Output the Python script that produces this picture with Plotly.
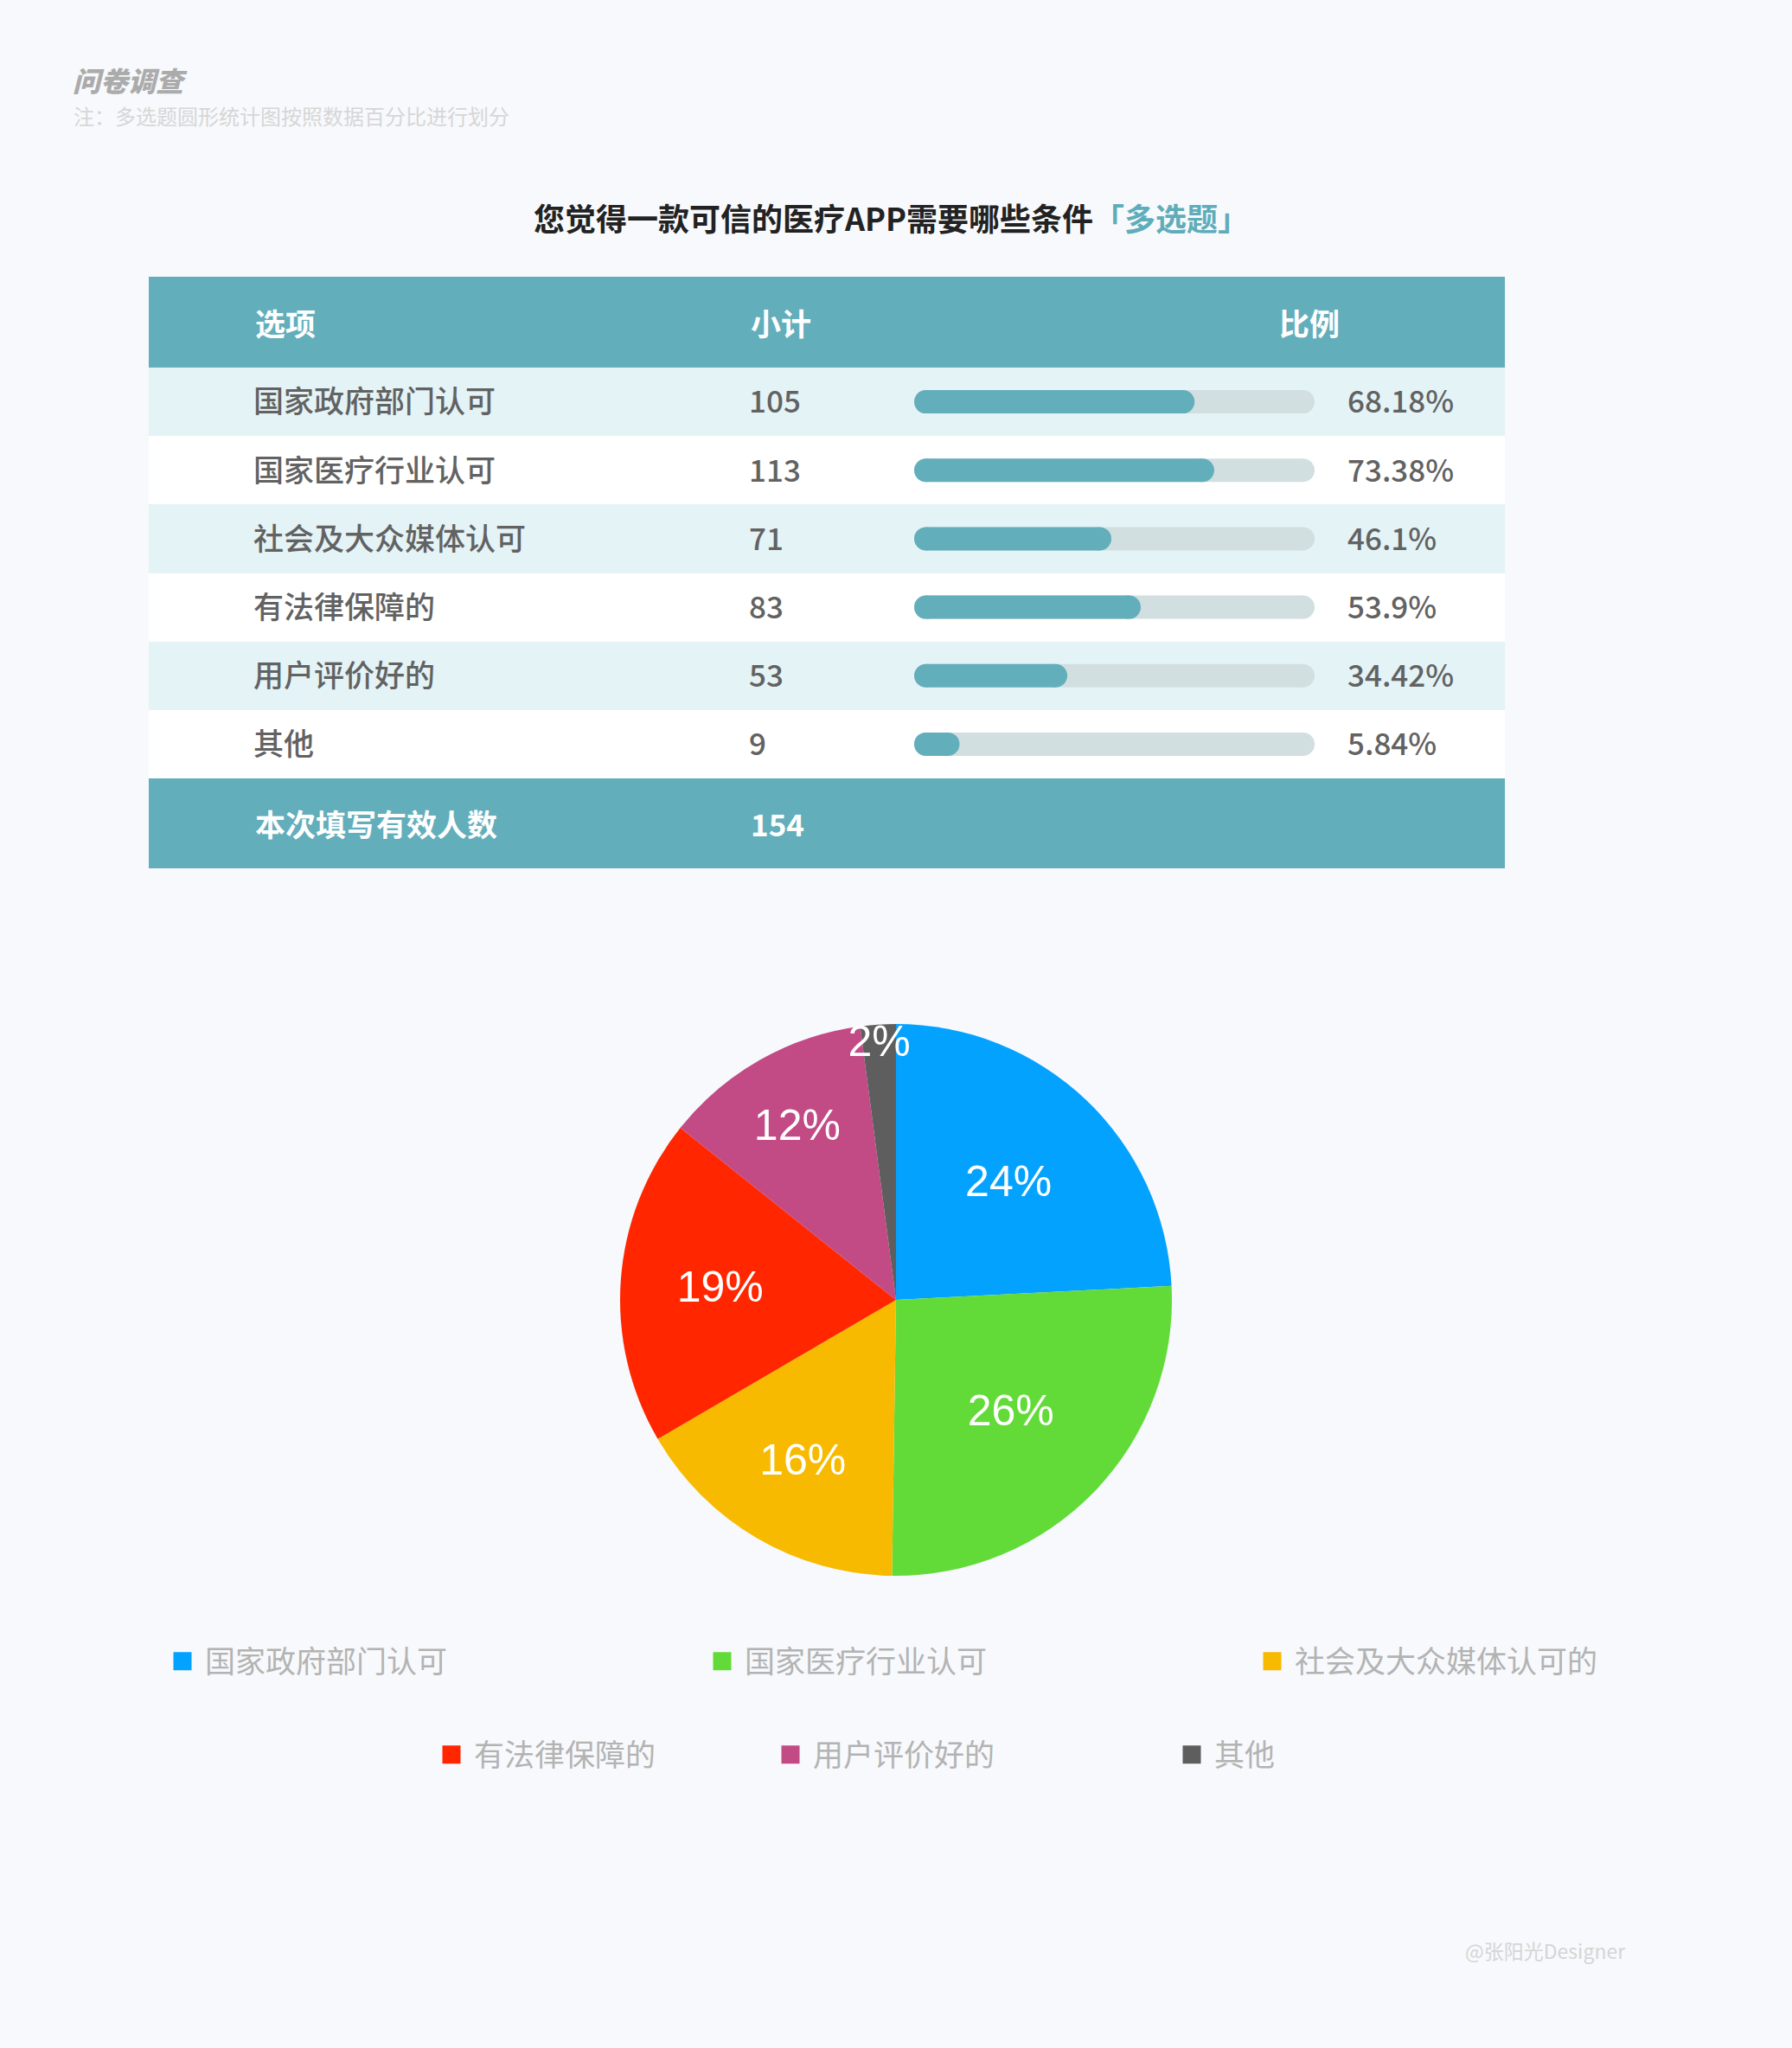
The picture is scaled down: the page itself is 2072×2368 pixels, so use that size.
import plotly.graph_objects as go

# ---------------- data ----------------
options = ["国家政府部门认可", "国家医疗行业认可", "社会及大众媒体认可", "有法律保障的", "用户评价好的", "其他"]
counts = [105, 113, 71, 83, 53, 9]
percents = [68.18, 73.38, 46.1, 53.9, 34.42, 5.84]
total_label = "本次填写有效人数"
total_count = 154
header_labels = ["选项", "小计", "比例"]
pie_labels = ["国家政府部门认可", "国家医疗行业认可", "社会及大众媒体认可的", "有法律保障的", "用户评价好的", "其他"]
pie_colors = ["#04A2FF", "#62DB38", "#F8BA00", "#FF2600", "#C24A85", "#5E5E5E"]

title_main = "您觉得一款可信的医疗APP需要哪些条件"
title_tag = "「多选题」"
corner_title = "问卷调查"
corner_note = "注：多选题圆形统计图按照数据百分比进行划分"
watermark = "@张阳光Designer"

# ---------------- layout helpers ----------------
W, H = 2072, 2368
BG = "#F7F9FC"
def fx(x):
    return x / W
def fy(y):
    return 1 - y / H

CJK = "Noto Sans CJK SC"
TEAL = "#63AEBB"
LIGHT_ROW = "#E4F3F6"
BAR_BG = "#D1DFE0"
TEXT_GRAY = "#626262"

tbl_left, tbl_right = 172, 1740
hdr_top, body_top, body_bot, ftr_bot = 320, 425, 900, 1004
col_label, col_count, col_pct = 293, 866, 1558
bar_left, bar_right, bar_h = 1057, 1520, 27
text_nudge = 4  # px, optical centring of CJK text in rows

fig = go.Figure()

n = len(options)
# row background stripes
fig.add_trace(go.Bar(
    x=[1] * n, y=options, orientation="h", width=1, base=0,
    marker=dict(color=[LIGHT_ROW if i % 2 == 0 else "#FFFFFF" for i in range(n)], line=dict(width=0)),
    xaxis="x", yaxis="y", showlegend=False, hoverinfo="skip",
))

# progress bars (background track then value) as thick lines with round caps
def segs(ends):
    xs, ys = [], []
    for o, e in zip(options, ends):
        xs += [0, e, None]
        ys += [o, o, None]
    return xs, ys

bx, by = segs([100] * n)
fig.add_trace(go.Scatter(
    x=bx, y=by, mode="lines+markers", xaxis="x2", yaxis="y",
    line=dict(color=BAR_BG, width=bar_h), marker=dict(color=BAR_BG, size=bar_h, line=dict(width=0)),
    cliponaxis=False, showlegend=False, hoverinfo="skip",
))
vx, vy = segs(percents)
fig.add_trace(go.Scatter(
    x=vx, y=vy, mode="lines+markers", xaxis="x2", yaxis="y",
    line=dict(color=TEAL, width=bar_h), marker=dict(color=TEAL, size=bar_h, line=dict(width=0)),
    cliponaxis=False, showlegend=False, hoverinfo="skip",
))

tw = tbl_right - tbl_left
def col(xpx):
    return (xpx - tbl_left) / tw

text_font = dict(family=CJK, size=35, color=TEXT_GRAY, weight=500)
for xs, txt in [(col_label, options),
                (col_count, [str(c) for c in counts]),
                (col_pct, [f"{p:g}%" for p in percents])]:
    fig.add_trace(go.Scatter(
        x=[col(xs)] * n, y=options, mode="text", text=txt, textposition="middle right",
        textfont=text_font, xaxis="x", yaxis="y2", showlegend=False, hoverinfo="skip", cliponaxis=False,
    ))

# pie
cx, cy, r = 1036, 1503, 319
fig.add_trace(go.Pie(
    labels=pie_labels, values=counts, sort=False, direction="clockwise", rotation=0,
    marker=dict(colors=pie_colors, line=dict(width=0)),
    texttemplate="%{percent:.0%}", textposition="inside", insidetextorientation="horizontal",
    textfont=dict(family="Liberation Sans", size=50, color="#FFFFFF"),
    domain=dict(x=[fx(cx - r), fx(cx + r)], y=[fy(cy + r), fy(cy - r)]),
    showlegend=False, hoverinfo="skip",
))

# legend entries: one legend per entry so each sits where the reference has it
legend_pos = [(211, 1921), (835, 1921), (1471, 1921), (522, 2029), (914, 2029), (1378, 2029)]
legend_font = dict(family=CJK, size=35, color="#B3B3B3")
legend_layout = {}
for i, (lab, colr) in enumerate(zip(pie_labels, pie_colors)):
    key = "legend" if i == 0 else f"legend{i + 1}"
    fig.add_trace(go.Scatter(
        x=[None], y=[None], mode="markers", name=lab, xaxis="x", yaxis="y",
        marker=dict(symbol="square", size=16, color=colr, line=dict(color=colr, width=5)),
        legend=key, showlegend=True, hoverinfo="skip",
    ))
    mx, my = legend_pos[i]
    legend_layout[key] = dict(orientation="h", x=fx(mx - 26), y=fy(my), xanchor="left", yanchor="middle",
                              itemwidth=42, font=legend_font, bgcolor="rgba(0,0,0,0)")

shapes = [
    dict(type="rect", xref="paper", yref="paper", x0=fx(tbl_left), x1=fx(tbl_right),
         y0=fy(body_top), y1=fy(hdr_top), fillcolor=TEAL, line=dict(width=0), layer="below"),
    dict(type="rect", xref="paper", yref="paper", x0=fx(tbl_left), x1=fx(tbl_right),
         y0=fy(ftr_bot), y1=fy(body_bot), fillcolor=TEAL, line=dict(width=0), layer="below"),
]

hdr_y = (hdr_top + body_top) / 2
ftr_y = (body_bot + ftr_bot) / 2
white_bold = dict(family=CJK, size=35, color="#FFFFFF", weight="bold")
annotations = []
for lab, xp in zip(header_labels, [col_label, col_count, 1477]):
    annotations.append(dict(text=lab, x=fx(xp), y=fy(hdr_y), xref="paper", yref="paper",
                            xanchor="left", yanchor="middle", showarrow=False, font=white_bold))
annotations.append(dict(text=total_label, x=fx(col_label), y=fy(ftr_y), xref="paper", yref="paper",
                        xanchor="left", yanchor="middle", showarrow=False, font=white_bold))
annotations.append(dict(text=str(total_count), x=fx(col_count), y=fy(ftr_y), xref="paper", yref="paper",
                        xanchor="left", yanchor="middle", showarrow=False, font=white_bold))
annotations.append(dict(text=f'{title_main}<span style="color:#5FADBA">{title_tag}</span>',
                        x=fx(1030), y=fy(251), xref="paper", yref="paper", xanchor="center", yanchor="middle",
                        showarrow=False, font=dict(family=CJK, size=36, color="#222222", weight="bold")))
annotations.append(dict(text=f"<i>{corner_title}</i>", x=fx(82), y=fy(92), xref="paper", yref="paper",
                        xanchor="left", yanchor="middle", showarrow=False,
                        font=dict(family=CJK, size=32, color="#ABABAB", weight=900)))
annotations.append(dict(text=corner_note, x=fx(83), y=fy(133), xref="paper", yref="paper",
                        xanchor="left", yanchor="middle", showarrow=False,
                        font=dict(family=CJK, size=24, color="#D6D6D6")))
annotations.append(dict(text=watermark, x=fx(1692), y=fy(2255), xref="paper", yref="paper",
                        xanchor="left", yanchor="middle", showarrow=False,
                        font=dict(family=CJK, size=23, color="#D5D5D5")))

fig.update_layout(
    width=W, height=H, margin=dict(l=0, r=0, t=0, b=0),
    paper_bgcolor=BG, plot_bgcolor="rgba(0,0,0,0)",
    bargap=0,
    xaxis=dict(domain=[fx(tbl_left), fx(tbl_right)], range=[0, 1], visible=False, fixedrange=True),
    xaxis2=dict(domain=[fx(bar_left + bar_h / 2), fx(bar_right - bar_h / 2)], range=[0, 100],
                visible=False, fixedrange=True, anchor="y"),
    yaxis=dict(domain=[fy(body_bot), fy(body_top)], type="category", categoryorder="array",
               categoryarray=options, range=[n - 0.5, -0.5], visible=False, fixedrange=True),
    yaxis2=dict(domain=[fy(body_bot + text_nudge), fy(body_top + text_nudge)], type="category",
                categoryorder="array", categoryarray=options, range=[n - 0.5, -0.5],
                visible=False, fixedrange=True, anchor="x"),
    uniformtext=dict(minsize=50, mode="show"),
    shapes=shapes, annotations=annotations,
    **legend_layout,
)

fig.write_html("out.html", config={"displayModeBar": False},
               post_script=f"document.body.style.margin='0';document.body.style.background='{BG}';")
